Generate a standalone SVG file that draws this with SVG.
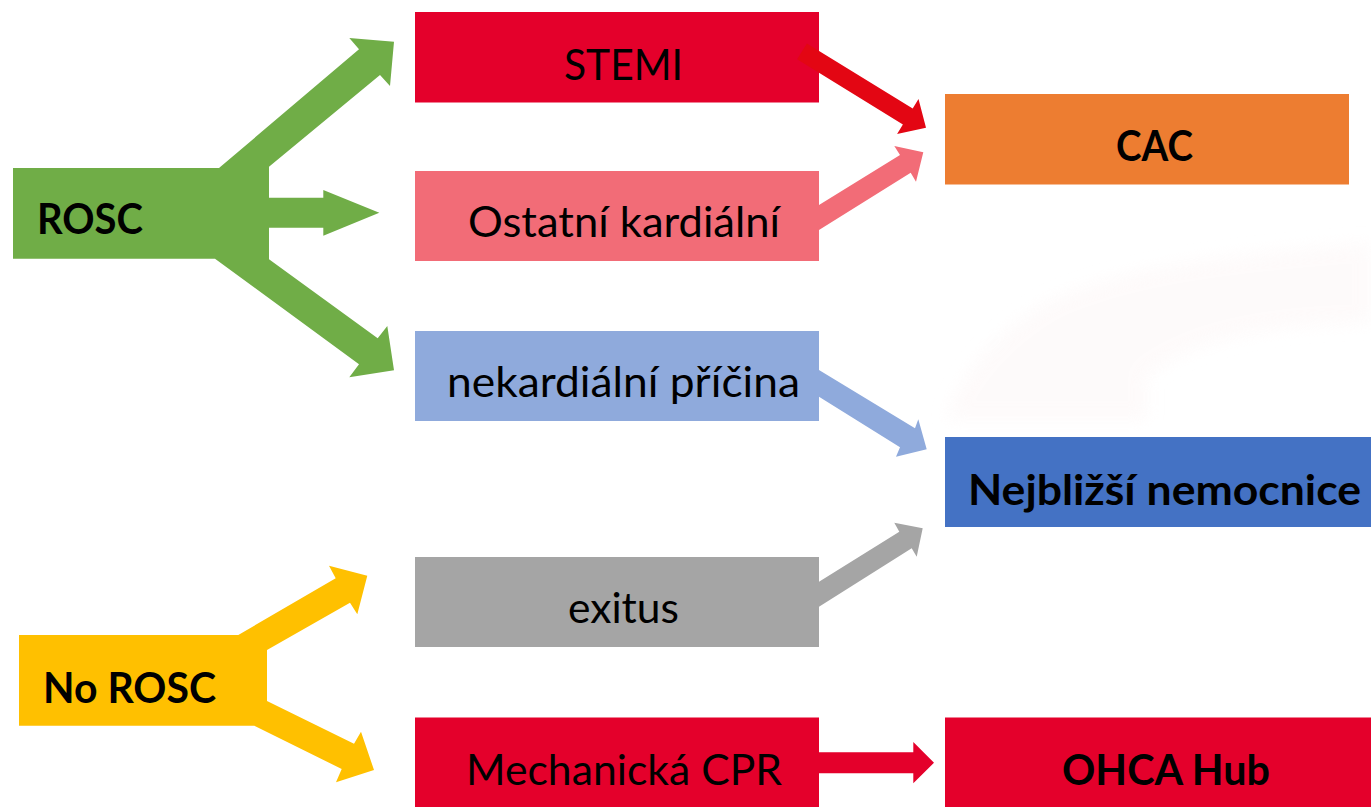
<svg xmlns="http://www.w3.org/2000/svg" width="1371" height="807" viewBox="0 0 1371 807">
  <style>
    .lbl { font-family: Lato, "Open Sans", "Liberation Sans", sans-serif; font-size: 43px; fill: #000000; }
    .bold { font-weight: bold; font-size: 42px; }
    .red { fill: #E4002B; }
    .pink { fill: #F26C77; }
    .lblue { fill: #8FAADC; }
    .grey { fill: #A5A5A5; }
    .orange { fill: #ED7D31; }
    .blue { fill: #4472C4; }
  </style>
  <defs>
    <filter id="soft" x="-10%" y="-20%" width="120%" height="140%">
      <feGaussianBlur stdDeviation="8"/>
    </filter>
  </defs>

  <rect x="0" y="0" width="1371" height="807" fill="#FFFFFF"/>

  <!-- faint swoosh in the background, right side -->
  <path d="M947,420 C950,395 980,340 1050,300 C1120,270 1200,255 1371,243 L1371,323 C1280,325 1200,335 1147,377 L1147,420 Z" fill="#FDF7F7" opacity="0.55" filter="url(#soft)"/>

  <!-- branching source shapes -->
  <g id="rosc">
    <path fill="#70AD47" d="M13,168 L219,168 L359,49.3 L349.3,38 L394,41.7 L390,86 L380,75 L269,166.7 L269,197.7 L323.3,197.7 L323.3,190 L379.3,212.7 L323.3,235.7 L323.3,227.7 L269,227.7 L269,259.3 L377.7,338.3 L387.3,326 L394,370.3 L349.3,377.3 L359,364.3 L215,258.7 L13,258.7 Z"/>
    <text class="lbl bold" x="37" y="234" textLength="106" lengthAdjust="spacingAndGlyphs">ROSC</text>
  </g>

  <g id="no-rosc">
    <path fill="#FFC000" d="M19,635 L238.3,635 L335.7,578.3 L329,565.7 L367.3,575.7 L357.3,614.3 L350,602.7 L267,650 L267,701 L354,743.7 L361,731.7 L374,770 L336,782.3 L341.7,769 L254.3,725.7 L19,725.7 Z"/>
    <text class="lbl bold" x="43" y="703" textLength="173" lengthAdjust="spacingAndGlyphs">No ROSC</text>
  </g>

  <!-- middle column -->
  <g id="stemi">
    <rect class="red" x="415" y="12" width="404" height="90.5"/>
    <text class="lbl" x="564" y="80" textLength="119" lengthAdjust="spacingAndGlyphs">STEMI</text>
  </g>
  <g id="ostatni-kardialni">
    <rect class="pink" x="415" y="171" width="404" height="90"/>
    <text class="lbl" x="468" y="237" textLength="312" lengthAdjust="spacingAndGlyphs">Ostatní kardiální</text>
  </g>
  <g id="nekardialni-pricina">
    <rect class="lblue" x="415" y="331" width="404" height="90"/>
    <text class="lbl" x="447" y="397" textLength="353" lengthAdjust="spacingAndGlyphs">nekardiální příčina</text>
  </g>
  <g id="exitus">
    <rect class="grey" x="415" y="557" width="404" height="90"/>
    <text class="lbl" x="568" y="623" textLength="111" lengthAdjust="spacingAndGlyphs">exitus</text>
  </g>
  <g id="mechanicka-cpr">
    <rect class="red" x="415" y="717.5" width="404" height="89.5"/>
    <text class="lbl" x="466" y="785" textLength="316" lengthAdjust="spacingAndGlyphs">Mechanická CPR</text>
  </g>

  <!-- destination column -->
  <g id="cac">
    <rect class="orange" x="945" y="94" width="404" height="90.5"/>
    <text class="lbl bold" x="1116" y="161" textLength="77" lengthAdjust="spacingAndGlyphs">CAC</text>
  </g>
  <g id="nejblizsi-nemocnice">
    <rect class="blue" x="945" y="437" width="426" height="90"/>
    <text class="lbl bold" x="968" y="505" textLength="393" lengthAdjust="spacingAndGlyphs">Nejbližší nemocnice</text>
  </g>
  <g id="ohca-hub">
    <rect class="red" x="945" y="717.5" width="426" height="89.5"/>
    <text class="lbl bold" x="1062" y="785" textLength="208" lengthAdjust="spacingAndGlyphs">OHCA Hub</text>
  </g>

  <!-- block arrows between columns -->
  <g id="connectors">
    <polygon fill="#E30613" points="806.9,43.4 912.7,108.6 918.5,99.1 926,127.7 897.1,133.9 902.9,124.4 797.1,59.2"/>
    <polygon class="pink" points="819,205 900,155 894.3,146 923.3,152.3 916,181.7 910.7,172.7 819,230"/>
    <polygon class="lblue" points="819,370 915,428.3 918.3,419.3 926.7,449.3 896,456.7 900,447.3 819,396.7"/>
    <polygon class="grey" points="819,581.7 899.3,531.7 894.3,522.7 922.7,528.3 916.7,556.7 911.7,548.3 819,606.7"/>
    <polygon class="red" points="819,752.3 913.3,752.3 913.3,742 934,762.7 913.3,783.3 913.3,773.3 819,773.3"/>
  </g>
</svg>
